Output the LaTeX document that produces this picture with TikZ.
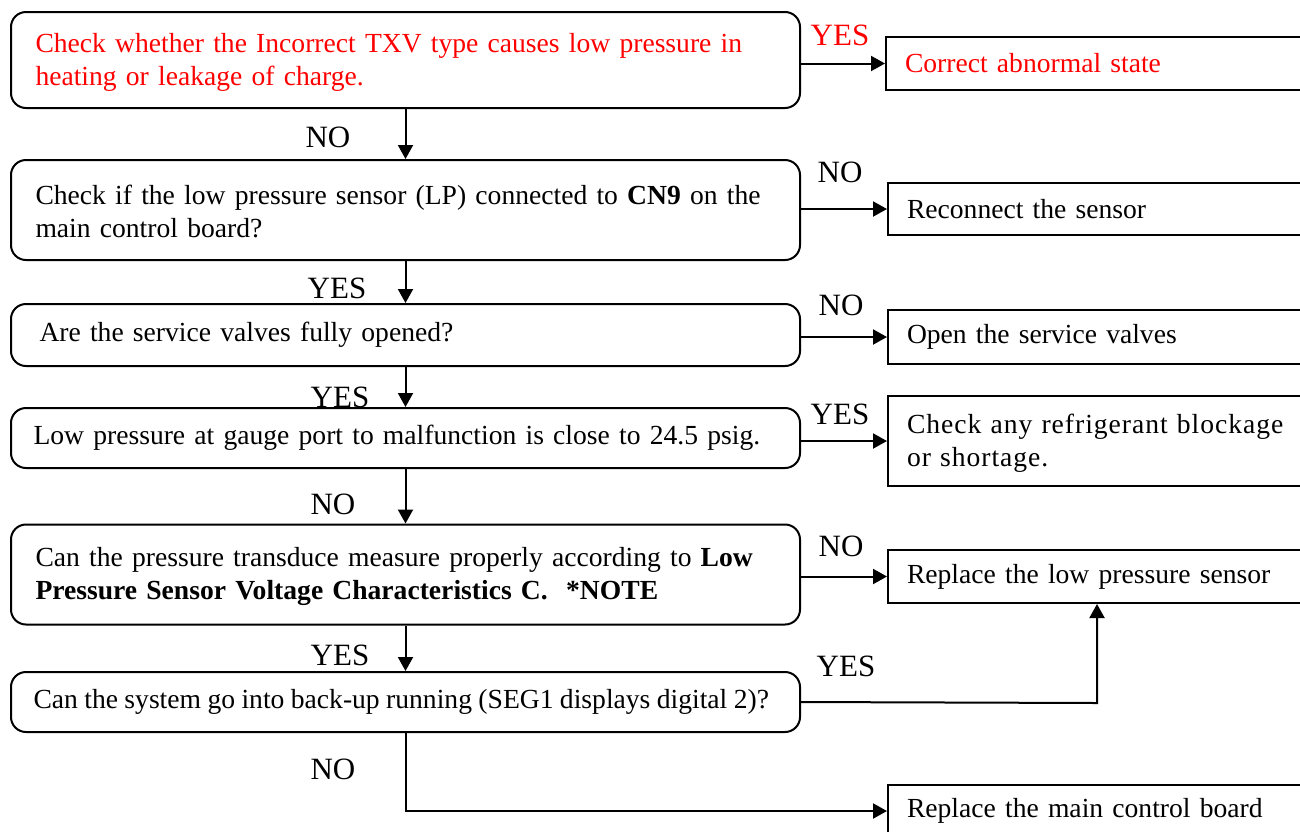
\documentclass[tikz,border=0pt]{standalone}
\usepackage{fontspec}
\setmainfont{Liberation Serif}
\usepackage{tikz}
\usetikzlibrary{arrows.meta,positioning}
\usepackage{xcolor}
\definecolor{alertred}{RGB}{255,0,0}

\begin{document}
\begin{tikzpicture}[x=0.5pt, y=-0.5pt,
    every node/.style={font=\fontsize{13.8}{16.5}\selectfont},
    qbox/.style={draw, line width=1pt, rounded corners=7.5pt, minimum width=394.5pt, text width=370pt, inner xsep=12.25pt, align=left},
    abox/.style={draw, line width=1pt, anchor=west, minimum width=230pt, text width=211pt, inner xsep=9.5pt, align=left},
    lbl/.style={font=\fontsize{15.5}{18}\selectfont},
    flow/.style={-{Triangle[length=7pt,width=7.5pt]}, line width=1pt}]
    \useasboundingbox (0,0) rectangle (1300,831);
    % questions
    \node[qbox,minimum height=48pt,text=alertred] (q1) at (405.5, 60) {\strut Check whether the Incorrect TXV type causes low pressure in\\heating or leakage of charge.};
    \node[qbox,minimum height=50pt] (q2) at (405.5,210) {\strut Check if the low pressure sensor (LP) connected to \textbf{CN9} on the\\main control board?};
    \node[qbox,minimum height=31pt] (q3) at (405.5,335) {\hspace{2pt}Are the service valves fully opened?};
    \node[qbox,minimum height=30pt] (q4) at (405.5,438) {\hspace{-1pt}Low pressure at gauge port to malfunction is close to 24.5 psig.};
    \node[qbox,minimum height=50pt] (q5) at (405.5,574.5) {\strut Can the pressure transduce measure properly according to \textbf{Low}\\\textbf{Pressure Sensor Voltage Characteristics C.\ \ *NOTE}};
    \node[qbox,minimum height=30pt] (q6) at (405.5,702) {\makebox[\linewidth][l]{\spaceskip=3.2pt\hspace{-1pt}Can the system go into back-up running (SEG1 displays digital 2)?}};
    % actions
    \node[abox,minimum height=26.5pt,text=alertred] (a1) at (885,63.5) {Correct abnormal state};
    \node[abox,minimum height=26pt] (a2) at (887,209) {Reconnect the sensor};
    \node[abox,minimum height=27pt] (a3) at (887,337) {Open the service valves};
    \node[abox,minimum height=45pt] (a4) at (887,441) {\strut\addfontfeature{LetterSpace=3.5}Check any refrigerant blockage\\or shortage.};
    \node[abox,minimum height=26.5pt] (a5) at (887,576.5) {Replace the low pressure sensor};
    \node[abox,minimum height=26pt] (a6) at (887,811) {Replace the main control board};
    \coordinate (turn) at (1097,703);
    % down flow
    \draw[flow] (q1) -- (q2);
    \draw[flow] (q2) -- (q3);
    \draw[flow] (q3) -- (q4);
    \draw[flow] (q4) -- (q5);
    \draw[flow] (q5) -- (q6);
    \draw[flow] (q6.south) |- (a6.west);
    % side flow
    \draw[flow] (a1.west -| q1.east) -- (a1.west);
    \draw[flow] (a2.west -| q2.east) -- (a2.west);
    \draw[flow] (a3.west -| q3.east) -- (a3.west);
    \draw[flow] (a4.west -| q4.east) -- (a4.west);
    \draw[flow] (a5.west -| q5.east) -- (a5.west);
    \draw[flow] (q6.east) -- (turn) -- (turn |- a5.south);
    % labels
    \node[lbl,text=alertred] (y1) at (840,35) {YES};
    \node[lbl] (n1) at (328,137) {NO};
    \node[lbl] (n2) at (840,172) {NO};
    \node[lbl] (y2) at (337,288) {YES};
    \node[lbl] (n3) at (841,305) {NO};
    \node[lbl] (y3) at (340,397) {YES};
    \node[lbl] (y4) at (840,414) {YES};
    \node[lbl] (n4) at (333,504) {NO};
    \node[lbl] (n5) at (841,546) {NO};
    \node[lbl] (y5) at (340,655) {YES};
    \node[lbl] (y6) at (846,666) {YES};
    \node[lbl] (n6) at (333,769) {NO};
  \end{tikzpicture}
\end{document}
